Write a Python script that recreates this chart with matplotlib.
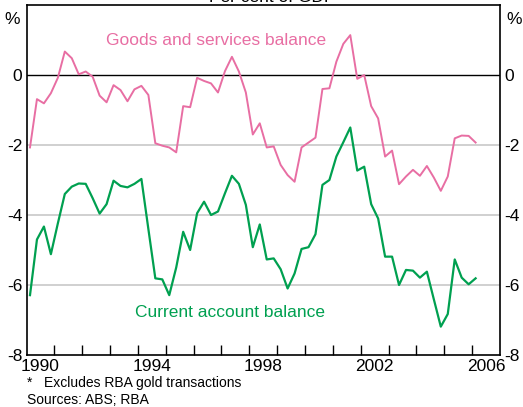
import numpy as np
import matplotlib.pyplot as plt

# quarterly, 1990 Q1 to 2006 Q1, per cent of GDP
goodsServices = [
    -2.07, -0.69, -0.81, -0.52, -0.08, 0.67, 0.48, 0.02, 0.10, -0.05,
    -0.59, -0.78, -0.29, -0.43, -0.75, -0.41, -0.31, -0.57, -1.95, -2.02,
    -2.07, -2.21, -0.89, -0.92, -0.08, -0.17, -0.24, -0.50, 0.11, 0.52,
    0.10, -0.50, -1.70, -1.38, -2.07, -2.04, -2.57, -2.86, -3.05, -2.07,
    -1.93, -1.79, -0.40, -0.38, 0.38, 0.89, 1.14, -0.11, 0.00, -0.89,
    -1.24, -2.33, -2.16, -3.12, -2.90, -2.71, -2.88, -2.60, -2.93, -3.31,
    -2.90, -1.81, -1.73, -1.74, -1.93,
]
currentAccount = [
    -6.29, -4.70, -4.33, -5.12, -4.24, -3.40, -3.19, -3.10, -3.11, -3.52,
    -3.96, -3.69, -3.02, -3.17, -3.21, -3.11, -2.97, -4.40, -5.81, -5.84,
    -6.29, -5.50, -4.48, -5.00, -3.95, -3.62, -4.00, -3.90, -3.38, -2.88,
    -3.11, -3.71, -4.92, -4.27, -5.27, -5.24, -5.55, -6.10, -5.67, -4.97,
    -4.92, -4.55, -3.14, -3.00, -2.33, -1.92, -1.50, -2.73, -2.62, -3.69,
    -4.10, -5.19, -5.19, -6.00, -5.57, -5.59, -5.79, -5.62, -6.41, -7.19,
    -6.83, -5.27, -5.79, -5.98, -5.81,
]
yearLabels = ["1990", "1994", "1998", "2002", "2006"]
yTicks = [0, -2, -4, -6, -8]

pink = "#e86ea3"
green = "#00a050"

def main():
    plt.rcParams["font.family"] = ["Liberation Sans", "DejaVu Sans"]
    fig = plt.figure(figsize=(5.23, 4.07), dpi=100)
    ax = fig.add_axes([0.0507, 0.1278, 0.9053, 0.8599])

    # each quarter drawn at its mid point
    t = 1990 + 0.125 + 0.25 * np.arange(len(goodsServices))

    for y in [-2, -4, -6]:
        ax.axhline(y, color="#c8c8c8", lw=1.2, zorder=1)
    ax.axhline(0, color="black", lw=1.0, zorder=1)

    ax.plot(t, goodsServices, color=pink, lw=1.4, zorder=3)
    ax.plot(t, currentAccount, color=green, lw=1.6, zorder=3)

    ax.set_xlim(1990, 2007)
    ax.set_ylim(-8, 2)

    ax.set_xticks(np.arange(1991, 2007))
    ax.set_xticklabels([])
    ax.set_xticks([int(y) + 0.5 for y in yearLabels], minor=True)
    ax.set_xticklabels(yearLabels, minor=True, fontsize=12.5)
    ax.tick_params(axis="x", which="major", direction="in", length=7, width=1)
    ax.tick_params(axis="x", which="minor", length=0, pad=3)

    ax.set_yticks(yTicks)
    ax.set_yticklabels([str(v) for v in yTicks])
    ax.tick_params(axis="y", length=0, labelsize=12.5, pad=3,
                   labelleft=True, labelright=True)

    for s in ax.spines.values():
        s.set_linewidth(1.2)

    ax.text(-0.03, 0.96, "%", transform=ax.transAxes, fontsize=12.5,
            ha="center", va="center")
    ax.text(1.03, 0.96, "%", transform=ax.transAxes, fontsize=12.5,
            ha="center", va="center")

    ax.text(1996.8, 1.0, "Goods and services balance", color=pink,
            fontsize=12.5, ha="center", va="center")
    ax.text(1997.3, -6.8, "Current account balance", color=green,
            fontsize=12.5, ha="center", va="center")

    fig.text(0.52, 1.005, "Per cent of GDP", fontsize=12.5, ha="center",
             va="center")
    fig.text(0.052, 0.058, "*   Excludes RBA gold transactions", fontsize=10,
             va="center")
    fig.text(0.052, 0.017, "Sources: ABS; RBA", fontsize=10, va="center")

    fig.savefig("out.png", dpi=100)

if __name__ == "__main__":
    main()
